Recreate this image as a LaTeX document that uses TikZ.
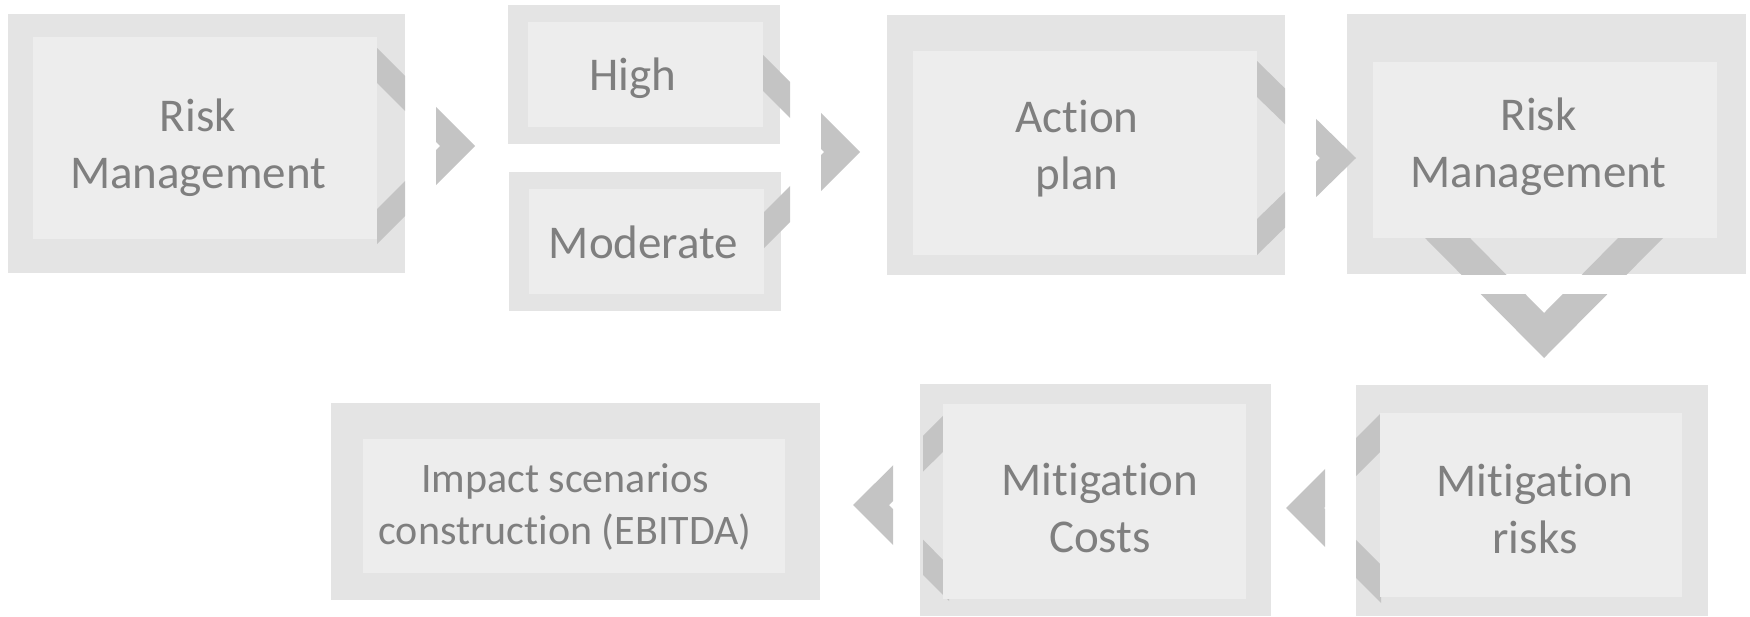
\documentclass[tikz,border=0pt]{standalone}
\usepackage{fontspec}
\setmainfont{Carlito}[Ligatures=NoCommon]
\definecolor{outerc}{HTML}{E4E4E4}
\definecolor{innerc}{HTML}{EDEDED}
\definecolor{chevc}{HTML}{C4C4C4}
\definecolor{txtc}{HTML}{7F7F7F}
\begin{document}
\begin{tikzpicture}[x=0.5pt,y=-0.5pt,
  outerbox/.style={fill=outerc},
  innerbox/.style={fill=innerc},
  chev/.style={fill=chevc},
  boxtext/.style={text=txtc, align=center, inner sep=0pt, font=\fontsize{23.5}{28.5}\selectfont},
  smalltext/.style={boxtext, font=\fontsize{21}{26}\selectfont}]
\useasboundingbox (0,0) rectangle (1750,616);
% outer boxes
\fill[outerbox] (8,14) rectangle (405,273);
\fill[outerbox] (508,5) rectangle (780,144);
\fill[outerbox] (509,172) rectangle (781,311);
\fill[outerbox] (887,15) rectangle (1285,275);
\fill[outerbox] (1347,14) rectangle (1746,274);
\fill[outerbox] (1356,385) rectangle (1708,616);
\fill[outerbox] (920,384) rectangle (1271,616);
\fill[outerbox] (331,403) rectangle (820,600);
% chevron strips
\begin{scope}\clip (377,0) rectangle (405,616);
\fill[chev] (377,48)--(475,146)--(377,244)--(377,209)--(440,146)--(377,83)--cycle;\end{scope}
\begin{scope}\clip (763,0) rectangle (790,616);
\fill[chev] (763,55)--(860,152)--(763,249)--(763,213)--(824,152)--(763,91)--cycle;\end{scope}
\begin{scope}\clip (1257,0) rectangle (1285,616);
\fill[chev] (1257,61)--(1356,158)--(1257,255)--(1257,219)--(1320,158)--(1257,97)--cycle;\end{scope}
\begin{scope}\clip (1300,238) rectangle (1750,274);
\fill[chev] (1425,238)--(1544,358)--(1663,238)--(1618,238)--(1544,313)--(1470,238)--cycle;\end{scope}
\begin{scope}\clip (1356,0) rectangle (1381,616);
\fill[chev] (1381,413)--(1286,508)--(1381,603)--(1381,565)--(1324,508)--(1381,451)--cycle;\end{scope}
\begin{scope}\clip (923,0) rectangle (949,616);
\fill[chev] (949,410)--(853,505)--(949,601)--(949,566)--(889,505)--(949,446)--cycle;\end{scope}
% inner boxes
\fill[innerbox] (33,37) rectangle (377,239);
\fill[innerbox] (528,22) rectangle (763,127);
\fill[innerbox] (529,189) rectangle (764,294);
\fill[innerbox] (913,51) rectangle (1257,255);
\fill[innerbox] (1373,62) rectangle (1717,238);
\fill[innerbox] (1380,413) rectangle (1682,597);
\fill[innerbox] (943,404) rectangle (1246,599);
\fill[innerbox] (363,439) rectangle (785,573);
% arrow tips
\begin{scope}\clip (436,0) rectangle (1750,616);
\fill[chev] (377,48)--(475,146)--(377,244)--(377,209)--(440,146)--(377,83)--cycle;\end{scope}
\begin{scope}\clip (821,0) rectangle (1750,616);
\fill[chev] (763,55)--(860,152)--(763,249)--(763,213)--(824,152)--(763,91)--cycle;\end{scope}
\begin{scope}\clip (1316,0) rectangle (1750,616);
\fill[chev] (1257,61)--(1356,158)--(1257,255)--(1257,219)--(1320,158)--(1257,97)--cycle;\end{scope}
\begin{scope}\clip (1300,294) rectangle (1750,616);
\fill[chev] (1425,238)--(1544,358)--(1663,238)--(1618,238)--(1544,313)--(1470,238)--cycle;\end{scope}
\begin{scope}\clip (0,0) rectangle (1325,616);
\fill[chev] (1381,413)--(1286,508)--(1381,603)--(1381,565)--(1324,508)--(1381,451)--cycle;\end{scope}
\begin{scope}\clip (0,0) rectangle (893,616);
\fill[chev] (949,410)--(853,505)--(949,601)--(949,566)--(889,505)--(949,446)--cycle;\end{scope}
% texts
\node[boxtext] (rm1) at (198,149) {\strut Risk\\\strut Management};
\node[boxtext] (high) at (633,78.6) {\strut High};
\node[boxtext] (mod) at (643.5,246.6) {\strut Moderate};
\node[boxtext] (act) at (1077,150) {\strut Action\\\strut plan};
\node[boxtext] (rm2) at (1538.5,148) {\strut Risk\\\strut Management};
\node[boxtext] (mitr) at (1535,514) {\strut Mitigation\\\strut risks};
\node[boxtext] (mitc) at (1100,513) {\strut Mitigation\\\strut Costs};
\node[smalltext] (imp) at (565,507.6) {\strut Impact scenarios\\\strut construction (EBITDA)};
\end{tikzpicture}
\end{document}
